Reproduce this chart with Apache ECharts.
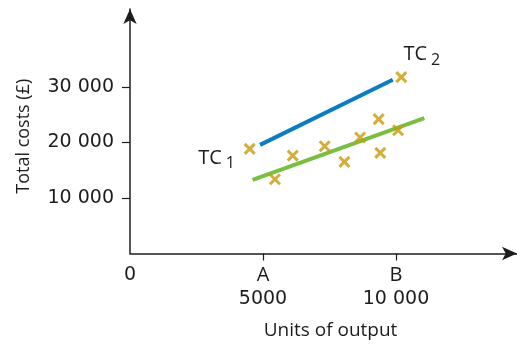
<!DOCTYPE html>
<html>
<head>
<meta charset="utf-8">
<script src="https://cdn.jsdelivr.net/npm/echarts@6/dist/echarts.min.js"></script>
<style>html,body{margin:0;padding:0;background:#fff}#c{width:517px;height:346px}</style>
</head>
<body>
<div id="c"></div>
<script>
// ---- data ----
const xTickValues = [0, 5000, 10000];
const xTickLetters = ['', 'A', 'B'];
const xTickNumbers = ['0', '5000', '10 000'];
const yTickValues = [10000, 20000, 30000];
const yTickLabels = ['10 000', '20 000', '30 000'];

const pointsX = [4500, 5450, 6120, 7320, 8060, 8650, 9350, 9410, 10080, 10200];
const pointsY = [18830, 13370, 17620, 19310, 16490, 20870, 24180, 18110, 22190, 31750];

const tc1X = [4610, 11065];
const tc1Y = [13240, 24360];
const tc2X = [4890, 9880];
const tc2Y = [19550, 31260];

const tc1Name = 'TC';
const tc1Sub = '1';
const tc2Name = 'TC';
const tc2Sub = '2';

const xAxisName = 'Units of output';
const yAxisName = 'Total costs (£)';

// ---- chart ----
const INK = '#1f1c1d';
const WORD_FONT = 'Open Sans';
const NUM_FONT = 'DejaVu Sans';
const chart = echarts.init(document.getElementById('c'), null, {renderer: 'canvas'});

const richTC = {
  a: {fontFamily: WORD_FONT, fontSize: 20, color: INK, lineHeight: 22},
  b: {fontFamily: WORD_FONT, fontSize: 16, color: INK, padding: [12, 0, 0, 4], lineHeight: 22}
};

const tc1Data = tc1X.map((x, i) => i === 0 ? {
  value: [x, tc1Y[i]],
  label: {show: true, position: 'inside', offset: [-36, -22], formatter: '{a|' + tc1Name + '}{b|' + tc1Sub + '}', rich: richTC}
} : [x, tc1Y[i]]);
const tc2Data = tc2X.map((x, i) => i === tc2X.length - 1 ? {
  value: [x, tc2Y[i]],
  label: {show: true, position: 'inside', offset: [29, -25], formatter: '{a|' + tc2Name + '}{b|' + tc2Sub + '}', rich: richTC}
} : [x, tc2Y[i]]);

const crossPath = 'path://M0,0L10,10M10,0L0,10';

chart.setOption({
  animation: false,
  grid: {left: 130, right: 0, top: 9, bottom: 92.5},
  xAxis: {
    type: 'value', min: 0, max: 14550,
    splitLine: {show: false},
    axisLine: {show: true, onZero: false, lineStyle: {color: INK, width: 1.5}, symbol: ['none', 'arrow'], symbolSize: [10, 15]},
    axisTick: {show: true, length: 7, customValues: xTickValues.filter(v => v > 0), lineStyle: {color: INK, width: 1.2}},
    axisLabel: {
      customValues: xTickValues,
      margin: 10,
      formatter: function (v) {
        const i = xTickValues.indexOf(v);
        if (i < 0) return '';
        return xTickLetters[i] ? '{l|' + xTickLetters[i] + '}\n{n|' + xTickNumbers[i] + '}' : '{n|' + xTickNumbers[i] + '}';
      },
      rich: {
        l: {fontFamily: WORD_FONT, fontSize: 20, color: INK, lineHeight: 24},
        n: {fontFamily: NUM_FONT, fontSize: 19, color: INK, lineHeight: 24}
      }
    },
    name: xAxisName, nameLocation: 'middle', nameGap: 68,
    nameTextStyle: {fontFamily: WORD_FONT, fontSize: 19, color: INK, padding: [0, 0, 0, 14]}
  },
  yAxis: {
    type: 'value', min: 0, max: 44000,
    splitLine: {show: false},
    axisLine: {show: true, onZero: false, lineStyle: {color: INK, width: 1.5}, symbol: ['none', 'arrow'], symbolSize: [10, 15]},
    axisTick: {show: true, length: 8, customValues: yTickValues, lineStyle: {color: INK, width: 1.2}},
    axisLabel: {
      customValues: yTickValues, margin: 16,
      fontFamily: NUM_FONT, fontSize: 19, color: INK,
      formatter: function (v) { const i = yTickValues.indexOf(v); return i < 0 ? '' : yTickLabels[i]; }
    },
    name: yAxisName, nameLocation: 'middle', nameGap: 97, nameRotate: 90,
    nameTextStyle: {fontFamily: WORD_FONT, fontSize: 18, color: INK, padding: [0, 10, 0, 0]}
  },
  series: [
    {type: 'line', data: tc2Data, symbol: 'circle', symbolSize: 0, showSymbol: true,
     lineStyle: {color: '#0a7cc2', width: 4}, itemStyle: {color: '#0a7cc2'}, z: 2, silent: true},
    {type: 'line', data: tc1Data, symbol: 'circle', symbolSize: 0, showSymbol: true,
     lineStyle: {color: '#79bf43', width: 4}, itemStyle: {color: '#79bf43'}, z: 2, silent: true},
    {type: 'scatter', data: pointsX.map((x, i) => [x, pointsY[i]]), symbol: crossPath, symbolSize: 10,
     itemStyle: {color: 'rgba(0,0,0,0)', borderColor: '#c99a0a', borderWidth: 3}, z: 3, silent: true}
  ]
});
</script>
</body>
</html>
